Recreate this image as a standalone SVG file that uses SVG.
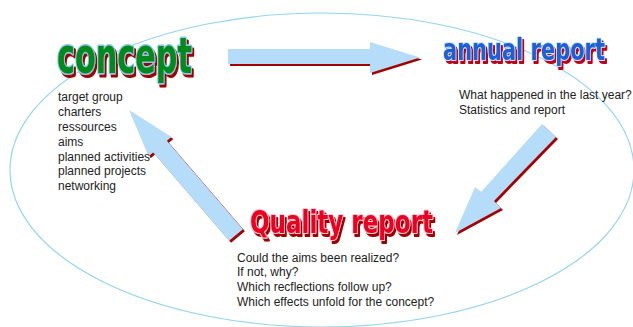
<svg xmlns="http://www.w3.org/2000/svg" width="633" height="327" viewBox="0 0 633 327">
<style>
.body{font-family:"Liberation Sans",Arial,sans-serif;font-size:12px;fill:#222}
.title{font-family:"DejaVu Sans","Liberation Sans",sans-serif;font-weight:bold;paint-order:stroke;stroke-linejoin:round}
.arrow{fill:#b5dcf8}
.shadow{fill:#a50000}
</style>
<defs>
<polygon id="a-top" points="228,49 370,49 370,42 420,57.5 370,73 370,64 228,64"/>
<polygon id="a-right" points="542,124 556,137 494,201 501,208 455,233 475,187 481,192"/>
<polygon id="a-left" points="129,110 171.4,136.9 166.9,140.8 242.9,229.2 229.1,240.8 153.1,152.4 148.6,156.3"/>
<filter id="sh-dark" x="-10%" y="-20%" width="130%" height="150%">
<feOffset in="SourceAlpha" dx="2" dy="2" result="o"/>
<feFlood flood-color="#a00000"/>
<feComposite in2="o" operator="in" result="s"/>
<feMerge><feMergeNode in="s"/><feMergeNode in="SourceGraphic"/></feMerge>
</filter>
<filter id="sh-red" x="-10%" y="-20%" width="130%" height="150%">
<feOffset in="SourceAlpha" dx="2" dy="2" result="o"/>
<feFlood flood-color="#c00012"/>
<feComposite in2="o" operator="in" result="s"/>
<feMerge><feMergeNode in="s"/><feMergeNode in="SourceGraphic"/></feMerge>
</filter>
</defs>
<rect width="633" height="327" fill="#fff"/>
<ellipse id="cycle" cx="322" cy="170" rx="312" ry="157" fill="none" stroke="#93d4f2" stroke-width="1.2"/>
<g id="connectors">
<use href="#a-top" class="shadow" transform="translate(2,2)"/>
<use href="#a-top" class="arrow"/>
<use href="#a-right" class="shadow" transform="translate(2,2)"/>
<use href="#a-right" class="arrow"/>
<use href="#a-left" class="shadow" transform="translate(2,2)"/>
<use href="#a-left" class="arrow"/>
</g>
<g id="concept">
<g transform="translate(0,73) scale(1,1.5)">
<text class="title" x="57" y="0" font-size="33" textLength="135" lengthAdjust="spacingAndGlyphs" fill="#008a1c" stroke="#8cc8e8" stroke-width="2" filter="url(#sh-dark)">concept</text>
</g>
<text class="body" x="58" y="101">target group</text>
<text class="body" x="58" y="116">charters</text>
<text class="body" x="58" y="131">ressources</text>
<text class="body" x="58" y="146">aims</text>
<text class="body" x="58" y="161">planned activities</text>
<text class="body" x="58" y="175">planned projects</text>
<text class="body" x="58" y="190">networking</text>
</g>
<g id="annual">
<g transform="translate(0,60) scale(1,1.27)">
<text class="title" x="443" y="0" font-size="24" textLength="162" lengthAdjust="spacingAndGlyphs" fill="#1a5fd6" stroke="#c8e4fa" stroke-width="1.6" filter="url(#sh-red)">annual report</text>
</g>
<text class="body" x="459" y="99">What happened in the last year?</text>
<text class="body" x="459" y="114">Statistics and report</text>
</g>
<g id="quality">
<g transform="translate(0,233) scale(1,1.28)">
<text class="title" x="250" y="0" font-size="25" textLength="183" lengthAdjust="spacingAndGlyphs" fill="#ec0020" stroke="#ffc8d2" stroke-width="1.6" filter="url(#sh-dark)">Quality report</text>
</g>
<text class="body" x="237" y="262">Could the aims been realized?</text>
<text class="body" x="237" y="276">If not, why?</text>
<text class="body" x="237" y="291">Which recflections follow up?</text>
<text class="body" x="237" y="306">Which effects unfold for the concept?</text>
</g>
</svg>
